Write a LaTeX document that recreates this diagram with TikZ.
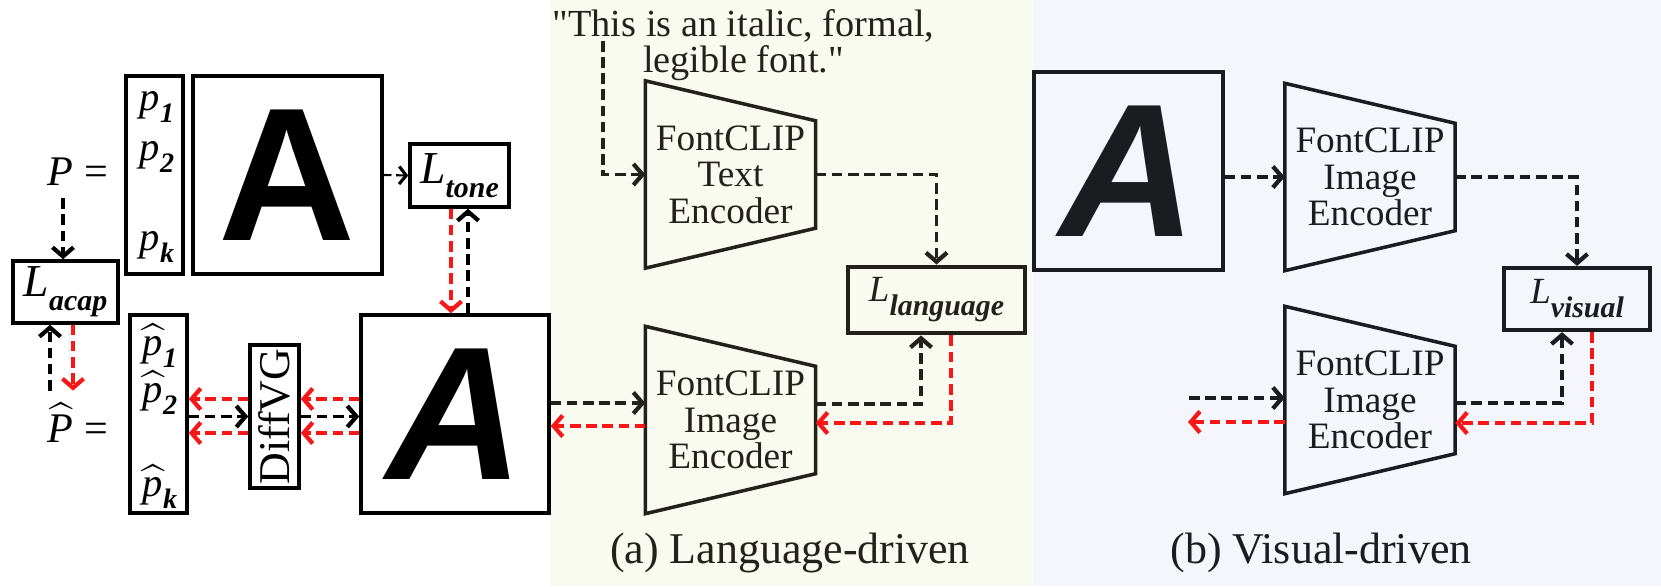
\documentclass[tikz,border=0pt]{standalone}
\usepackage{fontspec}
\setmainfont{Liberation Serif}
\newfontfamily\glyphfont{Liberation Sans}
\usepackage{amsmath}
\usetikzlibrary{arrows.meta,calc}
\definecolor{langbg}{RGB}{250,251,240}
\definecolor{visbg}{RGB}{244,246,251}
\definecolor{inka}{RGB}{34,34,26}
\definecolor{inkb}{RGB}{27,28,32}
\definecolor{gradred}{RGB}{250,22,22}
\newcommand{\lossterm}[2]{\fontsize{#1}{#1}\selectfont\textit{L}\raisebox{-4pt}{\fontsize{8.5}{8.5}\selectfont\bfseries\itshape #2}}
\newcommand{\ptlabel}[2]{\fontsize{11.5}{11.5}\selectfont#1\raisebox{-3.5pt}{\fontsize{8}{8}\selectfont\bfseries\itshape #2}}
\newcommand{\encshape}[2][black]{\draw[line width=1pt,#1] (#2.north west) -- ($(#2.north east)+(0,-0.40)$) -- ($(#2.south east)+(0,0.40)$) -- (#2.south west) -- cycle;}
\tikzset{
  shot/.style={draw, line width=1pt, minimum width=1.89cm, minimum height=1.98cm, inner sep=0pt, font=\glyphfont\bfseries\fontsize{54}{54}\selectfont},
  ptsbox/.style={draw, line width=1pt, minimum width=0.57cm, minimum height=1.98cm, inner sep=0pt},
  ptname/.style={inner sep=0pt},
  lossbox/.style={draw, line width=1pt, minimum height=0.63cm, inner sep=0pt},
  encoder/.style={minimum width=1.69cm, minimum height=1.86cm, inner sep=0pt, align=center, font=\fontsize{10.6}{10.4}\selectfont},
  fwd/.style={line width=0.9pt, dash pattern=on 3pt off 1.6pt, -{Straight Barb[length=2.6pt,width=6pt,line width=1.2pt]}},
  bwd/.style={fwd, gradred},
  thinfwd/.style={line width=0.6pt, dash pattern=on 2.2pt off 1.3pt, -{Straight Barb[length=2pt,width=5pt,line width=0.9pt]}}
}
\begin{document}
\begin{tikzpicture}
  \useasboundingbox (0,0) rectangle (16.61,5.86);
  \fill[langbg] (5.50,0) rectangle (10.33,5.86);
  \fill[visbg] (10.33,0) rectangle (16.61,5.86);

  \node (plab) at (0.78,4.14) {\fontsize{12}{12}\selectfont\textit{P} =};
  \node[ptsbox] (pts) at (1.545,4.11) {};
  \node[ptname] (p1) at (1.57,4.79) {\ptlabel{\textit{p}}{1}};
  \node[ptname] (p2) at (1.57,4.29) {\ptlabel{\textit{p}}{2}};
  \node[ptname] (pk) at (1.57,3.39) {\ptlabel{\textit{p}}{k}};
  \node[shot] (ain) at (2.875,4.11) {A};
  \node[lossbox, minimum width=0.99cm] (ltone) at (4.595,4.105) {\lossterm{13}{tone}};
  \node[lossbox, minimum width=1.05cm, minimum height=0.62cm] (lacap) at (0.655,2.94) {\lossterm{13}{acap}};

  \node (phatlab) at (0.78,1.63) {\fontsize{12}{12}\selectfont$\widehat{\textit{P}}$ =};
  \node[ptsbox] (phat) at (1.585,1.72) {};
  \node[ptname] (ph1) at (1.60,2.40) {\ptlabel{$\widehat{\textit{p}}$}{1}};
  \node[ptname] (ph2) at (1.60,1.93) {\ptlabel{$\widehat{\textit{p}}$}{2}};
  \node[ptname] (phk) at (1.60,0.99) {\ptlabel{$\widehat{\textit{p}}$}{k}};
  \node[draw, line width=1pt, minimum width=0.49cm, minimum height=1.43cm, inner sep=0pt] (diffvg) at (2.745,1.695) {\rotatebox{90}{\fontsize{12.5}{12.5}\selectfont DiffVG}};
  \node[shot, minimum width=1.88cm, font=\glyphfont\bfseries\itshape\fontsize{54}{54}\selectfont] (aout) at (4.55,1.72) {A};

  \draw[thinfwd] (ain.east) -- (ltone.west);
  \draw[bwd] ([xshift=-0.85mm]ltone.south) -- ([xshift=-0.85mm]ltone.south |- aout.north);
  \draw[fwd] ([xshift=0.85mm]ltone.south |- aout.north) -- ([xshift=0.85mm]ltone.south);
  \draw[fwd] ([xshift=-1.5mm]plab.south) -- ([xshift=-1.5mm]plab.south |- lacap.north);
  \draw[fwd] ([xshift=-2.8mm]phatlab.north) -- ([xshift=-2.8mm]phatlab.north |- lacap.south);
  \draw[bwd] ([xshift=-0.5mm]phatlab.north |- lacap.south) -- ([xshift=-0.5mm]phatlab.north);
  \draw[bwd] ([yshift=1.75mm]diffvg.west) -- ([yshift=1.75mm]diffvg.west -| phat.east);
  \draw[fwd] (diffvg.west -| phat.east) -- (diffvg.west);
  \draw[bwd] ([yshift=-1.65mm]diffvg.west) -- ([yshift=-1.65mm]diffvg.west -| phat.east);
  \draw[bwd] ([yshift=1.75mm]diffvg.west -| aout.west) -- ([yshift=1.75mm]diffvg.east);
  \draw[fwd] (diffvg.east) -- (diffvg.east -| aout.west);
  \draw[bwd] ([yshift=-1.65mm]diffvg.west -| aout.west) -- ([yshift=-1.65mm]diffvg.east);

  \node[text=inka, align=center, font=\fontsize{10.9}{10.3}\selectfont] (prompt) at (7.435,5.41) {\textquotedbl This is an italic, formal,\\legible font.\textquotedbl};
  \node[encoder, text=inka] (encta) at (7.305,4.115) {FontCLIP\\Text\\Encoder};
  \encshape[inka]{encta}
  \node[encoder, text=inka] (encla) at (7.305,1.66) {FontCLIP\\Image\\Encoder};
  \encshape[inka]{encla}
  \node[lossbox, draw=inka, line width=1.4pt, minimum width=1.77cm, minimum height=0.66cm, text=inka] (llang) at (9.365,2.86) {\lossterm{10.5}{language}};
  \coordinate (qtail) at (6.03,5.45);
  \draw[fwd, inka] (qtail) |- (encta.west);
  \draw[fwd, inka] (encta.east) -| (llang.north);
  \draw[fwd, inka] ([yshift=1.1mm]aout.east) -- ([yshift=1.1mm]aout.east -| encla.west);
  \draw[bwd] ([yshift=-1.2mm]aout.east -| encla.west) -- ([yshift=-1.2mm]aout.east);
  \draw[fwd, inka] ([yshift=1.6mm]encla.east) -| ([xshift=-1.55mm]llang.south);
  \draw[bwd] ([xshift=1.45mm]llang.south) |- ([yshift=-0.3mm]encla.east);
  \node[text=inka, anchor=base, font=\fontsize{12.5}{12.5}\selectfont] (capa) at (7.90,0.23) {(a) Language-driven};

  \node[shot, draw=inkb, text=inkb, font=\glyphfont\bfseries\itshape\fontsize{54}{54}\selectfont] (avis) at (11.285,4.15) {A};
  \node[encoder, text=inkb] (encvt) at (13.70,4.09) {FontCLIP\\Image\\Encoder};
  \encshape[inkb]{encvt}
  \node[encoder, text=inkb] (encvb) at (13.70,1.86) {FontCLIP\\Image\\Encoder};
  \encshape[inkb]{encvb}
  \node[lossbox, draw=inkb, line width=1.2pt, minimum width=1.46cm, minimum height=0.62cm, text=inkb] (lvis) at (15.77,2.87) {\lossterm{10.5}{visual}};
  \coordinate (visin) at (11.89,1.88);
  \coordinate (visout) at (11.88,1.64);
  \draw[fwd, inkb] (encvt.west -| avis.east) -- (encvt.west);
  \draw[fwd, inkb] (encvt.east) -| (lvis.north);
  \draw[fwd, inkb] (visin) -- (visin -| encvb.west);
  \draw[bwd] (visout -| encvb.west) -- (visout);
  \draw[fwd, inkb] ([yshift=-0.3mm]encvb.east) -| ([xshift=-1.5mm]lvis.south);
  \draw[bwd] ([xshift=1.5mm]lvis.south) |- ([yshift=-2.3mm]encvb.east);
  \node[text=inkb, anchor=base, font=\fontsize{12.5}{12.5}\selectfont] (capb) at (13.21,0.23) {(b) Visual-driven};
\end{tikzpicture}
\end{document}
